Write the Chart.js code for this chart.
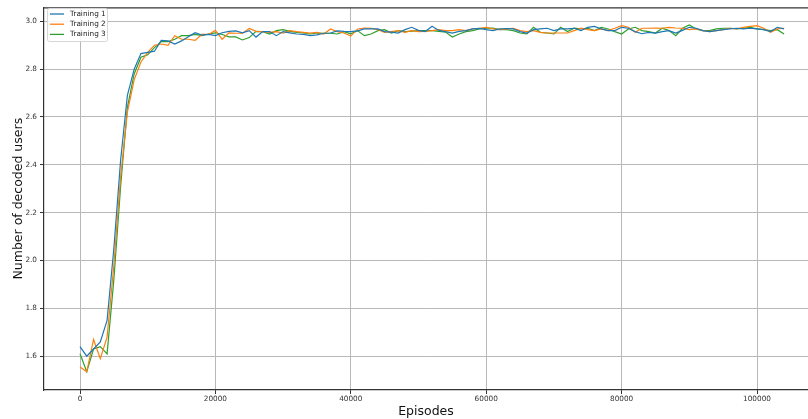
<!DOCTYPE html>
<html>
<head>
<meta charset="utf-8">
<script src="https://cdn.jsdelivr.net/npm/chart.js@4.4.0/dist/chart.umd.min.js"></script>
<style>
  html, body { margin: 0; padding: 0; background: #fff; }
</style>
</head>
<body>
<canvas id="lineChart" width="808" height="419"></canvas>
<script>
// episodes (x values)
var episodes = [
  0, 1000, 2000, 3000, 4000, 5000, 6000, 7000, 8000, 9000,
  10000, 11000, 12000, 13000, 14000, 15000, 16000, 17000, 18000, 19000,
  20000, 21000, 22000, 23000, 24000, 25000, 26000, 27000, 28000, 29000,
  30000, 31000, 32000, 33000, 34000, 35000, 36000, 37000, 38000, 39000,
  40000, 41000, 42000, 43000, 44000, 45000, 46000, 47000, 48000, 49000,
  50000, 51000, 52000, 53000, 54000, 55000, 56000, 57000, 58000, 59000,
  60000, 61000, 62000, 63000, 64000, 65000, 66000, 67000, 68000, 69000,
  70000, 71000, 72000, 73000, 74000, 75000, 76000, 77000, 78000, 79000,
  80000, 81000, 82000, 83000, 84000, 85000, 86000, 87000, 88000, 89000,
  90000, 91000, 92000, 93000, 94000, 95000, 96000, 97000, 98000, 99000,
  100000, 101000, 102000, 103000, 104000
]

var xTicks = [0, 20000, 40000, 60000, 80000, 100000]
var yTicks = [1.6, 1.8, 2.0, 2.2, 2.4, 2.6, 2.8, 3.0]

var training1 = [
  1.64, 1.60, 1.63, 1.66, 1.75, 2.05, 2.42, 2.69, 2.80, 2.865,
  2.87, 2.875, 2.92, 2.918, 2.905, 2.918, 2.935, 2.952, 2.942, 2.945,
  2.94, 2.952, 2.958, 2.96, 2.952, 2.961, 2.934, 2.957, 2.957, 2.94,
  2.957, 2.952, 2.947, 2.945, 2.94, 2.943, 2.95, 2.951, 2.96, 2.958,
  2.957, 2.96, 2.968, 2.968, 2.968, 2.957, 2.955, 2.951, 2.965, 2.975,
  2.962, 2.957, 2.979, 2.962, 2.957, 2.951, 2.958, 2.961, 2.968, 2.97,
  2.965, 2.961, 2.968, 2.97, 2.968, 2.957, 2.951, 2.965, 2.968, 2.971,
  2.961, 2.968, 2.968, 2.971, 2.961, 2.975, 2.979, 2.968, 2.961, 2.961,
  2.975, 2.971, 2.957, 2.948, 2.954, 2.951, 2.957, 2.961, 2.951, 2.962,
  2.975, 2.971, 2.961, 2.957, 2.961, 2.965, 2.968, 2.971, 2.968, 2.971,
  2.968, 2.965, 2.957, 2.975, 2.968
]

var training2 = [
  1.555, 1.535, 1.67, 1.59, 1.68, 1.98, 2.35, 2.62, 2.755, 2.83,
  2.87, 2.90, 2.905, 2.90, 2.94, 2.925, 2.925, 2.92, 2.945, 2.945,
  2.962, 2.925, 2.952, 2.95, 2.95, 2.97, 2.958, 2.957, 2.954, 2.957,
  2.951, 2.961, 2.957, 2.954, 2.951, 2.954, 2.947, 2.968, 2.957, 2.951,
  2.938, 2.968, 2.972, 2.971, 2.965, 2.954, 2.957, 2.961, 2.954, 2.961,
  2.957, 2.958, 2.961, 2.965, 2.961, 2.961, 2.965, 2.961, 2.968, 2.971,
  2.975, 2.968, 2.965, 2.968, 2.971, 2.961, 2.957, 2.961, 2.954, 2.951,
  2.951, 2.951, 2.951, 2.961, 2.971, 2.965, 2.961, 2.968, 2.961, 2.971,
  2.982, 2.975, 2.954, 2.971, 2.971, 2.972, 2.971, 2.975, 2.972, 2.971,
  2.965, 2.968, 2.961, 2.957, 2.961, 2.965, 2.971, 2.968, 2.975, 2.979,
  2.982, 2.971, 2.954, 2.968, 2.971
]

var training3 = [
  1.61, 1.535, 1.63, 1.64, 1.61, 1.92, 2.31, 2.64, 2.78, 2.85,
  2.86, 2.89, 2.915, 2.915, 2.925, 2.94, 2.94, 2.945, 2.94, 2.947,
  2.952, 2.945, 2.935, 2.935, 2.922, 2.932, 2.958, 2.957, 2.947, 2.961,
  2.965, 2.958, 2.954, 2.951, 2.947, 2.951, 2.95, 2.95, 2.947, 2.957,
  2.948, 2.961, 2.94, 2.947, 2.961, 2.965, 2.951, 2.961, 2.957, 2.959,
  2.961, 2.961, 2.961, 2.958, 2.955, 2.934, 2.947, 2.957, 2.961, 2.968,
  2.971, 2.972, 2.965, 2.965, 2.961, 2.951, 2.947, 2.975, 2.954, 2.951,
  2.947, 2.975, 2.957, 2.971, 2.968, 2.971, 2.961, 2.975, 2.968, 2.957,
  2.947, 2.968, 2.975, 2.961, 2.957, 2.951, 2.971, 2.961, 2.94, 2.971,
  2.985, 2.968, 2.961, 2.961, 2.968, 2.971, 2.971, 2.968, 2.971, 2.975,
  2.968, 2.965, 2.961, 2.965, 2.947
]

var seriesNames = ['Training 1', 'Training 2', 'Training 3']
var seriesColors = ['#1f77b4', '#ff7f0e', '#2ca02c']
var seriesValues = [training1, training2, training3]

function toPoints(values) {
  return values.map(function (v, i) { return { x: episodes[i], y: v } })
}

function fixedTicks(list) {
  return function (scale) {
    scale.ticks = list.map(function (v) { return { value: v } })
  }
}

// top spine + matplotlib style legend in the upper-left corner
var framePlugin = {
  id: 'frame',
  afterDraw: function (chart) {
    var ctx = chart.ctx
    var a = chart.chartArea
    ctx.save()
    ctx.strokeStyle = '#333'
    ctx.lineWidth = 1.2
    ctx.beginPath()
    ctx.moveTo(a.left, a.top + 0.5)
    ctx.lineTo(a.right, a.top + 0.5)
    ctx.stroke()

    // legend box
    var bx = 47.5, by = 8.5, bw = 60, bh = 33
    ctx.fillStyle = 'rgba(255,255,255,0.85)'
    ctx.strokeStyle = '#d6d6d6'
    ctx.lineWidth = 1
    ctx.beginPath()
    ctx.roundRect(bx, by, bw, bh, 2)
    ctx.fill()
    ctx.stroke()

    ctx.font = '7.3px "DejaVu Sans"'
    ctx.textBaseline = 'middle'
    ctx.textAlign = 'left'
    seriesNames.forEach(function (name, i) {
      var y = 14 + i * 10.2
      ctx.strokeStyle = seriesColors[i]
      ctx.lineWidth = 1.3
      ctx.beginPath()
      ctx.moveTo(50, y)
      ctx.lineTo(64, y)
      ctx.stroke()
      ctx.fillStyle = '#222'
      ctx.fillText(name, 70, y)
    })
    ctx.restore()
  }
}

var lineChartCanvas = document.getElementById('lineChart').getContext('2d')

var lineChart = new Chart(lineChartCanvas,
{
  type: 'line',
  data: {
    datasets: seriesNames.map(function (name, i) {
      return {
        label           : name,
        data            : toPoints(seriesValues[i]),
        borderColor     : seriesColors[i],
        backgroundColor : seriesColors[i],
        borderWidth     : 1.2,
        pointRadius     : 0,
        tension         : 0,
        fill            : false
      }
    })
  },
  options: {
    responsive : false,
    animation  : false,
    layout     : { padding: { top: 5, right: 0, left: 0, bottom: 0 } },
    plugins    : {
      legend  : { display: false },
      tooltip : { enabled: false }
    },
    scales: {
      x: {
        type : 'linear',
        min  : -5318,
        max  : 107533,
        afterBuildTicks: fixedTicks(xTicks),
        afterFit: function (scale) { scale.height = 29 },
        grid : { color: '#b8b8b8', lineWidth: 1, tickLength: 4, tickColor: '#333' },
        border : { color: '#333', width: 1.2 },
        ticks : {
          maxRotation   : 0,
          autoSkip      : false,
          padding       : 1,
          color         : '#333',
          font          : { family: 'DejaVu Sans', size: 7.3 },
          callback      : function (v) { return String(v) }
        },
        title : {
          display : true,
          text    : 'Episodes',
          color   : '#111',
          font    : { family: 'DejaVu Sans', size: 12.5 },
          padding : { top: 0, bottom: 0 }
        }
      },
      y: {
        min  : 1.4587,
        max  : 3.0582,
        afterBuildTicks: fixedTicks(yTicks),
        afterFit: function (scale) { scale.width = 44 },
        grid : { color: '#b8b8b8', lineWidth: 1, tickLength: 4, tickColor: '#333' },
        border : { color: '#333', width: 1.2 },
        ticks : {
          autoSkip      : false,
          padding       : 3,
          color         : '#333',
          font          : { family: 'DejaVu Sans', size: 7.3 },
          callback      : function (v) { return Number(v).toFixed(1) }
        },
        title : {
          display : true,
          text    : 'Number of decoded users',
          color   : '#111',
          font    : { family: 'DejaVu Sans', size: 12.5 },
          padding : { top: 11, bottom: 0 }
        }
      }
    }
  },
  plugins: [framePlugin]
})
</script>
</body>
</html>
